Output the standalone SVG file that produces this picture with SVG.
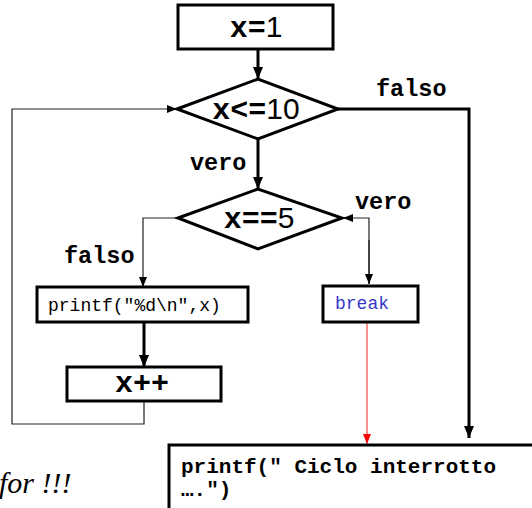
<svg xmlns="http://www.w3.org/2000/svg" width="532" height="508" viewBox="0 0 532 508">
<defs>
<style>
.box{fill:#fff;stroke:#000;stroke-width:3}
.thick{fill:none;stroke:#000;stroke-width:3}
.thin{fill:none;stroke:#222;stroke-width:1.2}
.red{fill:none;stroke:#ff6a6a;stroke-width:1.5}
.big{font-family:"Liberation Mono",monospace;font-weight:bold;font-size:30px;fill:#000}
.dig{font-family:"Liberation Sans",Arial,sans-serif;font-weight:normal}
.lbl{font-family:"Liberation Mono",monospace;font-weight:bold;font-size:23.5px;fill:#000}
.code{font-family:"Liberation Mono",monospace;font-size:18px;fill:#000}
.code2{font-family:"Liberation Mono",monospace;font-weight:bold;font-size:21px;fill:#000}
</style>
<marker id="ah" markerUnits="userSpaceOnUse" markerWidth="12" markerHeight="12" viewBox="0 0 12 12" refX="12" refY="6" orient="auto"><path d="M0,1 L12,6 L0,11 Z" fill="#000"/></marker>
<marker id="ahs" markerUnits="userSpaceOnUse" markerWidth="10" markerHeight="10" viewBox="0 0 10 10" refX="10" refY="5" orient="auto"><path d="M0,1 L10,5 L0,9 Z" fill="#000"/></marker>
<marker id="ahr" markerUnits="userSpaceOnUse" markerWidth="10" markerHeight="10" viewBox="0 0 10 10" refX="10" refY="5" orient="auto"><path d="M0,1 L10,5 L0,9 Z" fill="#f00"/></marker>
</defs>

<g id="connectors">
<line class="thick" x1="258" y1="49" x2="258" y2="79" marker-end="url(#ah)"/>
<line class="thick" x1="258" y1="139" x2="258" y2="189" marker-end="url(#ah)"/>
<polyline class="thick" points="338,109 469,109 469,438" marker-end="url(#ah)"/>
<polyline class="thin" points="178,218 143,218 143,287" marker-end="url(#ahs)"/>
<line class="thick" x1="144" y1="322" x2="144" y2="367" marker-end="url(#ah)"/>
<polyline class="thin" points="144,401 144,424 12,424 12,109 177,109" marker-end="url(#ahs)"/>
<polyline class="thin" points="369,284 369,218 343,218" marker-end="url(#ahs)"/>
<line class="thin" x1="369" y1="240" x2="369" y2="284" marker-end="url(#ahs)"/>
<line class="red" x1="367" y1="322" x2="367" y2="444" marker-end="url(#ahr)"/>
</g>

<g id="labels">
<text class="lbl" x="376" y="96">falso</text>
<text class="lbl" x="190" y="170">vero</text>
<text class="lbl" x="355" y="209">vero</text>
<text class="lbl" x="64" y="263">falso</text>
</g>

<g id="n_init">
<rect class="box" x="178" y="5" width="155" height="44"/>
<text class="big" x="256" y="37" text-anchor="middle">x=<tspan class="dig">1</tspan></text>
</g>

<g id="n_cond10">
<polygon class="box" points="177,109 258,79 338,109 258,139"/>
<text class="big" x="256" y="119" text-anchor="middle">x&lt;=<tspan class="dig">10</tspan></text>
</g>

<g id="n_cond5">
<polygon class="box" points="178,218 258,189 342,218 258,249"/>
<text class="big" x="259" y="228" text-anchor="middle">x==<tspan class="dig">5</tspan></text>
</g>

<g id="n_printf">
<rect class="box" x="37" y="287" width="211" height="35"/>
<text class="code" x="48" y="311">printf("%d\n",x)</text>
</g>

<g id="n_inc">
<rect class="box" x="67" y="367" width="154" height="34"/>
<text class="big" x="142" y="392" text-anchor="middle">x++</text>
</g>

<g id="n_break">
<rect class="box" x="323" y="286" width="95" height="36"/>
<text class="code" x="335" y="309" style="fill:#3838c8">break</text>
</g>

<g id="n_end">
<rect class="box" x="169" y="445" width="380" height="80"/>
<text class="code2" x="181" y="473">printf(″ Ciclo interrotto</text>
<text class="code2" x="181" y="496">….″)</text>
</g>

<g id="note">
<text x="-1" y="493" font-family="Liberation Serif,serif" font-style="italic" font-size="30" fill="#000">for !!!</text>
</g>
</svg>
